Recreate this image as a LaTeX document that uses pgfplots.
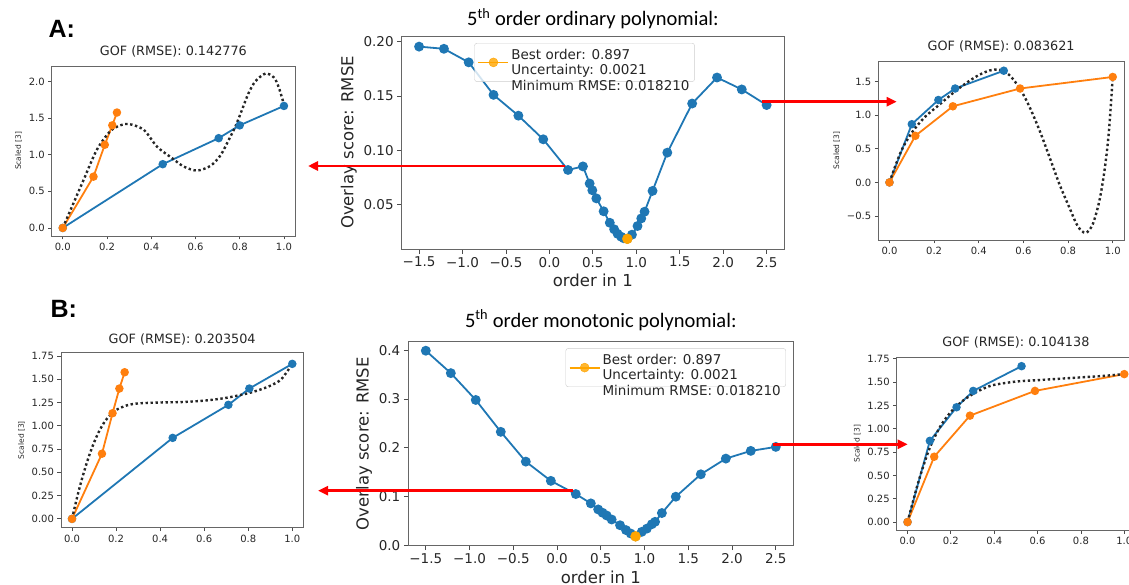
\documentclass[border=0pt]{standalone}
\usepackage{fontspec}
\setmainfont{DejaVu Sans}
\newfontfamily\carlito{Carlito}
\newfontfamily\lsans{Liberation Sans}
\usepackage{pgfplots}
\pgfplotsset{compat=1.18}
\usetikzlibrary{arrows.meta}

\definecolor{tabblue}{HTML}{1F77B4}
\definecolor{taborange}{HTML}{FF7F0E}
\definecolor{minorange}{HTML}{FFA500}
\definecolor{arrowred}{HTML}{FF0000}

\pgfplotsset{
  mpl/.style={scale only axis, axis line style={black!60, line width=0.8pt},
    tick style={black!70, line width=0.8pt}, tick align=outside,
    xtick pos=bottom, ytick pos=left, ticklabel style={text=black!85}},
  side/.style={mpl, major tick length=3.5pt,
    ticklabel style={font=\fontsize{10}{12}\selectfont},
    title style={font=\fontsize{12.8}{15}\selectfont, text=black!85, at={(0.5,1)}, anchor=base},
    ylabel={Scaled [3]}, ylabel style={font=\fontsize{7.5}{9}\selectfont, text=black!85},
    xmin=-0.05, xmax=1.05, xtick={0,0.2,0.4,0.6,0.8,1.0},
    xticklabels={0.0,0.2,0.4,0.6,0.8,1.0}},
  mid/.style={mpl, major tick length=4.5pt,
    ticklabel style={font=\fontsize{13.5}{16}\selectfont},
    xlabel={order in 1}, ylabel={Overlay score: RMSE},
    xlabel style={font=\fontsize{16.5}{19}\selectfont, text=black!85},
    ylabel style={font=\fontsize{16.5}{19}\selectfont, text=black!85},
    title style={font=\carlito\fontsize{20.5}{24}\selectfont, at={(0.5,1)}, anchor=base},
    xmin=-1.7, xmax=2.7, xtick={-1.5,-1,-0.5,0,0.5,1,1.5,2,2.5},
    xticklabels={−1.5,−1.0,−0.5,0.0,0.5,1.0,1.5,2.0,2.5},
    legend cell align=left,
    legend style={draw=black!20, fill=white, fill opacity=0.8, text opacity=1,
      rounded corners=2.5pt, font=\fontsize{13.5}{15.5}\selectfont, text=black!85,
      inner xsep=3pt, inner ysep=3pt}},
  bl/.style={color=tabblue, line width=1.8pt, mark=*, mark size=3.3pt, mark options={solid}},
  or/.style={color=taborange, line width=1.8pt, mark=*, mark size=3.3pt, mark options={solid}},
  dt/.style={black!85, line width=2.4pt, dash pattern=on 2.4pt off 2.6pt, smooth, mark=none},
  mb/.style={color=tabblue, line width=1.8pt, mark=*, mark size=4pt, mark options={solid}},
  mo/.style={color=minorange, only marks, mark=*, mark size=5pt,
    legend image code/.code={\draw[minorange, line width=1.8pt] (0pt,0pt) -- (30pt,0pt);
      \fill[minorange] (15pt,0pt) circle (4.5pt);}},
}

\begin{document}
\begin{tikzpicture}
\useasboundingbox (0pt,0pt) rectangle (1129pt,-585pt);

% ---------- A: top-left
\begin{axis}[side, at={(51.7pt,-236pt)}, anchor=south west, width=243.3pt, height=170pt,
  ymin=-0.11, ymax=2.21, ytick={0,0.5,1,1.5,2}, yticklabels={0.0,0.5,1.0,1.5,2.0},
  title={GOF (RMSE): 0.142776}, title style={yshift=4.3pt}]
\addplot[bl] coordinates {(0,0) (0.452,0.870) (0.705,1.225) (0.800,1.400) (1.0,1.665)};
\addplot[or] coordinates {(0,0) (0.139,0.700) (0.190,1.135) (0.224,1.400) (0.245,1.575)};
\addplot[dt] coordinates {(0,0) (0.048,0.334) (0.094,0.654) (0.154,1.066) (0.214,1.318)
  (0.260,1.400) (0.298,1.419) (0.366,1.340) (0.426,1.110) (0.494,0.953) (0.547,0.838)
  (0.607,0.783) (0.668,0.848) (0.713,0.990) (0.751,1.205) (0.781,1.387) (0.811,1.617)
  (0.841,1.846) (0.872,2.005) (0.917,2.107) (0.955,2.052) (0.977,1.915) (1.0,1.685)};
\end{axis}

% ---------- A: top-middle
\begin{axis}[mid, at={(401.7pt,-249pt)}, anchor=south west, width=382.3pt, height=213pt,
  ymin=0.0088, ymax=0.2053, ytick={0.05,0.1,0.15,0.2}, yticklabels={0.05,0.10,0.15,0.20},
  title={5\textsuperscript{th} order ordinary polynomial:}, title style={yshift=4.3pt},
  legend style={at={(axis description cs:0.19,0.967)}, anchor=north west}]
\addplot[mb, forget plot] coordinates {(-1.5,0.1955) (-1.214,0.1935) (-0.929,0.181)
  (-0.643,0.151) (-0.357,0.1318) (-0.071,0.110) (0.214,0.0817) (0.386,0.0850)
  (0.463,0.0692) (0.494,0.0630) (0.540,0.0555) (0.624,0.0436) (0.695,0.0330)
  (0.745,0.0270) (0.785,0.0228) (0.826,0.0201) (0.856,0.0187) (0.897,0.0182)
  (0.950,0.0220) (1.014,0.0300) (1.057,0.0370) (1.095,0.0432) (1.187,0.0624)
  (1.357,0.0977) (1.643,0.1430) (1.929,0.1670) (2.214,0.1560) (2.5,0.1416)};
\addplot[mo] coordinates {(0.897,0.0182)};
\addlegendentry{\begin{tabular}{@{}l@{}}Best order: 0.897\\Uncertainty: 0.0021\\Minimum RMSE: 0.018210\end{tabular}}
\end{axis}

% ---------- A: top-right
\begin{axis}[side, at={(878.3pt,-240pt)}, anchor=south west, width=245.6pt, height=179pt,
  ymin=-0.858, ymax=1.81, ytick={-0.5,0,0.5,1,1.5}, yticklabels={−0.5,0.0,0.5,1.0,1.5},
  title={GOF (RMSE): 0.083621}, title style={yshift=4.3pt}]
\addplot[bl] coordinates {(0,0) (0.100,0.868) (0.219,1.229) (0.294,1.400) (0.512,1.665)};
\addplot[or] coordinates {(0,0) (0.116,0.695) (0.284,1.135) (0.585,1.400) (1.0,1.572)};
\addplot[dt] coordinates {(0,0) (0.03,0.28) (0.06,0.52) (0.104,0.76) (0.16,0.98)
  (0.224,1.16) (0.28,1.32) (0.343,1.48) (0.40,1.60) (0.45,1.67) (0.49,1.68) (0.537,1.60)
  (0.585,1.394) (0.627,1.128) (0.672,0.777) (0.717,0.376) (0.761,-0.024) (0.806,-0.376)
  (0.843,-0.651) (0.878,-0.752) (0.910,-0.626) (0.940,-0.275) (0.963,0.176)
  (0.982,0.728) (1.0,1.572)};
\end{axis}

% ---------- B: bottom-left
\begin{axis}[side, at={(61pt,-527.7pt)}, anchor=south west, width=242.3pt, height=175pt,
  ymin=-0.095, ymax=1.785, ytick={0,0.25,0.5,0.75,1,1.25,1.5,1.75},
  yticklabels={0.00,0.25,0.50,0.75,1.00,1.25,1.50,1.75},
  title={GOF (RMSE): 0.203504}, title style={yshift=2.8pt}]
\addplot[bl] coordinates {(0,0) (0.457,0.870) (0.710,1.225) (0.805,1.400) (1.0,1.665)};
\addplot[or] coordinates {(0,0) (0.136,0.700) (0.184,1.135) (0.215,1.400) (0.239,1.575)};
\addplot[dt] coordinates {(0,0) (0.025,0.25) (0.05,0.47) (0.075,0.66) (0.10,0.82)
  (0.125,0.95) (0.15,1.05) (0.175,1.12) (0.20,1.17) (0.25,1.22) (0.30,1.24) (0.40,1.25)
  (0.50,1.255) (0.60,1.27) (0.70,1.30) (0.80,1.35) (0.85,1.385) (0.90,1.43) (0.95,1.50)
  (1.0,1.665)};
\end{axis}

% ---------- B: bottom-middle
\begin{axis}[mid, at={(408.3pt,-545.7pt)}, anchor=south west, width=385pt, height=204pt,
  ymin=-0.001, ymax=0.4175, ytick={0,0.1,0.2,0.3,0.4}, yticklabels={0.0,0.1,0.2,0.3,0.4},
  title={5\textsuperscript{th} order monotonic polynomial:}, title style={yshift=8.4pt},
  legend style={at={(axis description cs:0.981,0.968)}, anchor=north east}]
\addplot[mb, forget plot] coordinates {(-1.5,0.399) (-1.214,0.353) (-0.929,0.298)
  (-0.643,0.2326) (-0.357,0.1715) (-0.071,0.132) (0.214,0.105) (0.386,0.0858)
  (0.470,0.0734) (0.520,0.0666) (0.567,0.0610) (0.624,0.0528) (0.720,0.0410)
  (0.788,0.0310) (0.842,0.0240) (0.897,0.0182) (0.968,0.0274) (1.026,0.0340)
  (1.083,0.0430) (1.120,0.0480) (1.198,0.0660) (1.357,0.0995) (1.643,0.1455)
  (1.929,0.1777) (2.214,0.1935) (2.5,0.2017)};
\addplot[mo] coordinates {(0.897,0.0182)};
\addlegendentry{\begin{tabular}{@{}l@{}}Best order: 0.897\\Uncertainty: 0.0021\\Minimum RMSE: 0.018210\end{tabular}}
\end{axis}

% ---------- B: bottom-right
\begin{axis}[side, at={(896.7pt,-530pt)}, anchor=south west, width=238.4pt, height=172.7pt,
  ymin=-0.085, ymax=1.765, ytick={0,0.25,0.5,0.75,1,1.25,1.5,1.75},
  yticklabels={0.00,0.25,0.50,0.75,1.00,1.25,1.50,1.75},
  title={GOF (RMSE): 0.104138}, title style={yshift=4.5pt}]
\addplot[bl] coordinates {(0,0) (0.103,0.870) (0.226,1.230) (0.303,1.405) (0.526,1.670)};
\addplot[or] coordinates {(0,0) (0.123,0.700) (0.288,1.140) (0.588,1.405) (1.0,1.585)};
\addplot[dt] coordinates {(0,0) (0.05,0.43) (0.10,0.78) (0.15,1.02) (0.20,1.18)
  (0.25,1.29) (0.30,1.37) (0.35,1.43) (0.40,1.47) (0.50,1.505) (0.60,1.52) (0.70,1.535)
  (0.80,1.55) (0.90,1.565) (1.0,1.585)};
\end{axis}

% ---------- panel letters and arrows
\node[anchor=base west, font=\lsans\bfseries\fontsize{25}{30}\selectfont] at (45pt,-38pt) {A:};
\node[anchor=base west, font=\lsans\bfseries\fontsize{25}{30}\selectfont] at (47pt,-317pt) {B:};
\draw[arrowred, line width=2.6pt, -{Triangle[length=10pt,width=9pt]}] (565pt,-166pt) -- (308pt,-166pt);
\draw[arrowred, line width=2.6pt, -{Triangle[length=10pt,width=9pt]}] (761.7pt,-101.7pt) -- (896.7pt,-101.7pt);
\draw[arrowred, line width=2.6pt, -{Triangle[length=10pt,width=9pt]}] (573.3pt,-490.7pt) -- (318pt,-490.7pt);
\draw[arrowred, line width=2.6pt, -{Triangle[length=10pt,width=9pt]}] (773.3pt,-444.3pt) -- (907.7pt,-444.3pt);
\end{tikzpicture}
\end{document}
